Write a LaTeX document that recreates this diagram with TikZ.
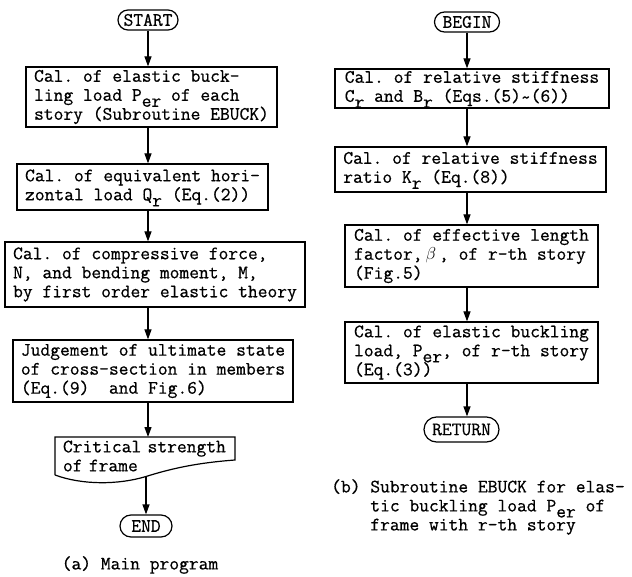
\documentclass[tikz,border=0pt]{standalone}
\usepackage{fontspec}
\setmonofont{Latin Modern Mono}[FakeBold=0.6]
\usetikzlibrary{arrows.meta,shapes.misc}
\newcommand{\lowr}[1]{\smash{\raisebox{-6pt}{#1}}}
\newcommand{\tld}{\raisebox{-1.5pt}{\textasciitilde}}
\begin{document}
\begin{tikzpicture}[x=1pt,y=-1pt,
  every node/.style={font=\ttfamily\fontsize{19}{19}\selectfont},
  box/.style={draw, line width=1.2pt, align=left, inner xsep=4pt, inner ysep=2pt},
  term/.style={draw, rounded rectangle, line width=1.2pt, inner xsep=4pt, inner ysep=0pt},
  arr/.style={line width=1.2pt, -{Triangle[length=10pt,width=7pt]}},
  captxt/.style={align=left, inner sep=0pt}]
\fill[white] (0,0) rectangle (632,577);
\useasboundingbox (0,0) rectangle (632,577);

% ---------- (a) main program ----------
\node[term, minimum width=68pt, minimum height=20pt] (start) at (148,20) {START};
\node[box, minimum width=251pt, minimum height=60pt] (b1) at (151.5,97)
  {Cal. of elastic buck-\\ling load P\lowr{er} of each\\story (Subroutine EBUCK)};
\node[box, minimum width=251pt, minimum height=46pt] (b2) at (142.5,187)
  {Cal. of equivalent hori-\\zontal load Q\lowr{r} (Eq.(2))};
\node[box, minimum width=300pt, minimum height=65pt] (b3) at (155,274.5)
  {Cal. of compressive force,\\N, and bending moment, M,\\by first order elastic theory};
\node[box, minimum width=280pt, minimum height=62pt] (b4) at (153,371)
  {Judgement of ultimate state\\of cross-section in members\\(Eq.(9)\ \ and Fig.6)};
\node[align=left, inner sep=0pt, minimum width=172pt, text width=172pt] (doc) at (149,456)
  {Critical strength\\of frame};
\draw[line width=1.2pt] (55,475) -- (55,437) -- (235,437) -- (235,460)
  .. controls (195,463) and (170,469) .. (146,476.5)
  .. controls (118,485) and (82,485) .. (55,475);
\coordinate (docb) at (146,476.5);
\node[term, minimum width=60pt, minimum height=22pt] (end) at (146,526) {END};
\node[captxt] (capa) at (140,565) {(a) Main program};

\draw[arr] (start.south) -- (start.south |- b1.north);
\draw[arr] (b1.south -| start.south) -- (b2.north -| start.south);
\draw[arr] (b2.south -| start.south) -- (b3.north -| start.south);
\draw[arr] (b3.south -| start.south) -- (b4.north -| start.south);
\draw[arr] (b4.south -| start.south) -- (start.south |- 0,437);
\draw[arr] (docb) -- (end.north);

% ---------- (b) subroutine EBUCK ----------
\node[term, minimum width=73pt, minimum height=20pt] (begin) at (467,22) {BEGIN};
\node[box, minimum width=274pt, minimum height=39pt] (r1) at (472,88.5)
  {Cal. of relative stiffness\\C\lowr{r} and B\lowr{r} (Eqs.(5)\tld(6))};
\node[box, minimum width=271pt, minimum height=45pt] (r2) at (470.5,169.5)
  {Cal. of relative stiffness\\ratio K\lowr{r} (Eq.(8))};
\node[box, minimum width=253pt, minimum height=62pt] (r3) at (471.5,256)
  {Cal. of effective length\\factor,\hspace{3pt}$\beta$\hspace{3pt}, of r-th story\\(Fig.5)};
\node[box, minimum width=253pt, minimum height=61pt] (r4) at (471.5,352.5)
  {Cal. of elastic buckling\\load, P\lowr{er}, of r-th story\\(Eq.(3))};
\node[term, minimum width=83pt, minimum height=25pt] (ret) at (461.5,429.5) {RETURN};
\node[captxt, anchor=west] (capb) at (331,507)
  {(b) Subroutine EBUCK for elas-\\\hphantom{(b) }tic buckling load P\lowr{er} of\\\hphantom{(b) }frame with r-th story};

\draw[arr] (begin.south) -- (begin.south |- r1.north);
\draw[arr] (r1.south -| begin.south) -- (r2.north -| begin.south);
\draw[arr] (r2.south -| begin.south) -- (r3.north -| begin.south);
\draw[arr] (r3.south -| begin.south) -- (r4.north -| begin.south);
\draw[arr] (r4.south -| begin.south) -- (ret.north -| begin.south);
\end{tikzpicture}
\end{document}
